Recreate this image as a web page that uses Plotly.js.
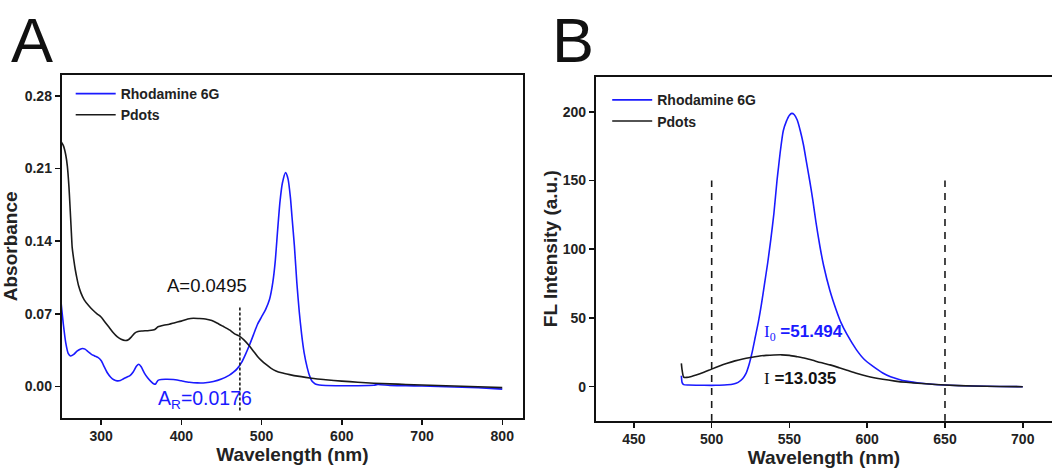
<!DOCTYPE html>
<html>
<head>
<meta charset="utf-8">
<script src="https://cdn.plot.ly/plotly-3.0.1.min.js"></script>
<style>html,body{margin:0;padding:0;background:#fff;}#chart{width:1052px;height:468px;}</style>
</head>
<body>
<div id="chart"></div>
<script>
// ---------- Panel A: absorbance ----------
var rhodAbsWl = [250,253,256,259,262,266,270,274,277,280,284,288,292,296,300,304,308,312,316,320,324,328,332,336,340,344,347,350,354,358,362,366,368,371,375,380,390,400,410,420,430,440,450,460,465,470,475,480,485,490,495,500,505,510,514,517,520,523,526,530,533,536,538,541,544,547,550,553,557,560,563,567,572,580,600,620,640,645,660,680,700,720,740,760,780,800];
var rhodAbs = [0.082,0.060,0.042,0.032,0.0295,0.031,0.034,0.036,0.0366,0.036,0.0335,0.031,0.0295,0.028,0.025,0.019,0.013,0.009,0.0065,0.0055,0.0058,0.0075,0.009,0.0105,0.014,0.0195,0.0215,0.019,0.013,0.0085,0.005,0.0025,0.0025,0.006,0.0068,0.007,0.0068,0.0055,0.0042,0.0035,0.0036,0.0048,0.0072,0.011,0.0138,0.0175,0.023,0.031,0.040,0.050,0.060,0.067,0.074,0.084,0.100,0.120,0.150,0.178,0.196,0.206,0.200,0.182,0.163,0.135,0.100,0.072,0.050,0.033,0.018,0.010,0.005,0.0025,0.0015,0.0010,0.0008,0.0008,0.0012,0.0020,0.0010,0.0008,0.0005,0.0,-0.0005,-0.0008,-0.0015,-0.0025];

var pdotsAbsWl = [250,253,256,258,260,261,262,263,264,266,268,270,272,275,279,285,290,295,300,305,310,315,320,325,330,334,338,342,346,352,360,367,371,378,385,392,400,408,415,422,430,438,445,452,460,466,472,478,485,490,495,500,506,512,518,525,535,545,555,565,580,600,620,640,660,680,700,720,740,760,780,800];
var pdotsAbs = [0.236,0.232,0.223,0.212,0.192,0.178,0.163,0.148,0.134,0.122,0.112,0.104,0.097,0.090,0.0835,0.0775,0.0735,0.070,0.067,0.062,0.057,0.052,0.048,0.0455,0.0443,0.045,0.048,0.0515,0.053,0.0535,0.054,0.055,0.0575,0.059,0.060,0.0615,0.063,0.065,0.0658,0.0655,0.065,0.0635,0.061,0.058,0.0545,0.051,0.0488,0.045,0.039,0.034,0.029,0.025,0.021,0.0175,0.015,0.0132,0.0115,0.010,0.0088,0.0078,0.0065,0.0052,0.0042,0.0032,0.0026,0.002,0.0015,0.001,0.0005,0.0,-0.0005,-0.001];

var markerA_x = [473, 473];
var markerA_y = [-0.023, 0.077];

var absTicks = [0, 0.07, 0.14, 0.21, 0.28];
var absWlTicks = [300, 400, 500, 600, 700, 800];

// ---------- Panel B: fluorescence ----------
var rhodFlWl = [480.5,481,482,485,490,500,505,510,514,517,520,522,524,526,528,530,532,534,536,538,540,542,543,544,546,548,550,551.5,553,555,557,559,561,563,565,567,569.6,572,576,580,583,587,593,598,604,610,615,620,625,635,650,668,685,700];
var rhodFl = [8,3,1.5,1.2,1.1,1.0,1.1,1.4,2.0,3.2,6,9.5,16,25,36,47,60,75,90,107,126,150,160,170,186,193,197.5,198.8,198,194,186,176,163,150,136,120,102,88,70,56,47,38,27,20,14.6,10,7.3,5.5,4.1,2.5,1.2,0.5,0.2,0];

var pdotsFlWl = [480.5,481,482,484,487,490,495,500,505,510,515,520,525,530,535,540,545,550,555,560,565,570,576,582,587,593,600,610,618,625,635,650,668,685,700];
var pdotsFl = [17,12,7,6.8,7.5,8.5,10.5,12.8,15,17,18.8,20.2,21.3,22.2,22.8,23.1,23.2,22.8,21.8,20.7,19.2,17.6,15.9,13.8,12,9.8,7.6,5.4,4.1,3.2,2.3,1.2,0.5,0.2,0];

var markerB1_x = [500, 500];
var markerB2_x = [650, 650];
var markerB_y = [-25, 150];

var flTicks = [0, 50, 100, 150, 200];
var flWlTicks = [450, 500, 550, 600, 650, 700];

var BLUE = '#1a1aff';
var BLACK = '#1a1a1a';
var FONT = 'Liberation Sans, Arial, sans-serif';

var traces = [
  {x: rhodAbsWl, y: rhodAbs, type: 'scatter', mode: 'lines', name: 'Rhodamine 6G',
   line: {color: BLUE, width: 1.6, shape: 'spline', smoothing: 0.6}, xaxis: 'x', yaxis: 'y', legend: 'legend'},
  {x: pdotsAbsWl, y: pdotsAbs, type: 'scatter', mode: 'lines', name: 'Pdots',
   line: {color: BLACK, width: 1.6, shape: 'spline', smoothing: 0.6}, xaxis: 'x', yaxis: 'y', legend: 'legend'},
  {x: markerA_x, y: markerA_y, type: 'scatter', mode: 'lines', showlegend: false,
   line: {color: BLACK, width: 1.6, dash: '3px,2px'}, xaxis: 'x', yaxis: 'y'},
  {x: rhodFlWl, y: rhodFl, type: 'scatter', mode: 'lines', name: 'Rhodamine 6G',
   line: {color: BLUE, width: 1.6, shape: 'spline', smoothing: 0.6}, xaxis: 'x2', yaxis: 'y2', legend: 'legend2'},
  {x: pdotsFlWl, y: pdotsFl, type: 'scatter', mode: 'lines', name: 'Pdots',
   line: {color: BLACK, width: 1.6, shape: 'spline', smoothing: 0.6}, xaxis: 'x2', yaxis: 'y2', legend: 'legend2'},
  {x: markerB1_x, y: markerB_y, type: 'scatter', mode: 'lines', showlegend: false,
   line: {color: BLACK, width: 1.6, dash: '7px,6px'}, xaxis: 'x2', yaxis: 'y2'},
  {x: markerB2_x, y: markerB_y, type: 'scatter', mode: 'lines', showlegend: false,
   line: {color: BLACK, width: 1.6, dash: '7px,6px'}, xaxis: 'x2', yaxis: 'y2'}
];

var tickFont = {family: FONT, size: 14, color: '#222', weight: 'bold'};
var titleFont = {family: FONT, size: 19, color: '#222', weight: 'bold'};

function axisBase() {
  return {showgrid: false, zeroline: false, showline: true, linecolor: '#111', linewidth: 2,
          ticks: 'outside', ticklen: 5, tickwidth: 1.5, tickcolor: '#111', tickfont: tickFont,
          automargin: false, fixedrange: true};
}

var xaxis = Object.assign(axisBase(), {domain: [0.0587, 0.4971], range: [251.0, 825.8], tickvals: absWlTicks,
  mirror: true, anchor: 'y', title: {text: 'Wavelength (nm)', font: titleFont, standoff: 1}});
var yaxis = Object.assign(axisBase(), {domain: [0.1075, 0.8397], range: [-0.030, 0.300], tickvals: absTicks,
  tickformat: '.2f', mirror: true, anchor: 'x', title: {text: 'Absorbance', font: titleFont, standoff: 2}});
var xaxis2 = Object.assign(axisBase(), {domain: [0.5665, 1], range: [425.6, 718.8], tickvals: flWlTicks,
  mirror: true, anchor: 'y2', title: {text: 'Wavelength (nm)', font: titleFont, standoff: 4}});
var yaxis2 = Object.assign(axisBase(), {domain: [0.1011, 0.8361], range: [-24.7, 225.5], tickvals: flTicks,
  mirror: false, anchor: 'x2', title: {text: 'FL Intensity (a.u.)', font: titleFont, standoff: 0}});

var legendFont = {family: FONT, size: 14, color: '#222', weight: 'bold'};

var layout = {
  width: 1052, height: 468,
  margin: {l: 0, r: 0, t: 0, b: 0},
  paper_bgcolor: '#fff', plot_bgcolor: '#fff',
  showlegend: true,
  xaxis: xaxis, yaxis: yaxis, xaxis2: xaxis2, yaxis2: yaxis2,
  legend: {x: 0.0672, y: 0.8333, xanchor: 'left', yanchor: 'top', bgcolor: 'rgba(0,0,0,0)',
           borderwidth: 0, font: legendFont, tracegroupgap: 0, itemwidth: 40},
  legend2: {x: 0.5772, y: 0.8200, xanchor: 'left', yanchor: 'top', bgcolor: 'rgba(0,0,0,0)',
           borderwidth: 0, font: legendFont, tracegroupgap: 0, itemwidth: 40},
  annotations: [
    {text: 'A', xref: 'paper', yref: 'paper', x: 0.0085, y: 0.9145, xanchor: 'left', yanchor: 'middle',
     showarrow: false, font: {family: FONT, size: 63, color: '#111'}},
    {text: 'B', xref: 'paper', yref: 'paper', x: 0.5230, y: 0.9145, xanchor: 'left', yanchor: 'middle',
     showarrow: false, font: {family: FONT, size: 63, color: '#111'}},
    {text: 'A=0.0495', xref: 'paper', yref: 'paper', x: 0.1963, y: 0.3910, xanchor: 'center', yanchor: 'middle',
     showarrow: false, font: {family: FONT, size: 18.5, color: '#111'}},
    {text: 'A<sub>R</sub>=0.0176', xref: 'paper', yref: 'paper', x: 0.1485, y: 0.1474, xanchor: 'left', yanchor: 'middle',
     showarrow: false, font: {family: FONT, size: 19.5, color: BLUE}},
    {text: '<span style="font-family:Liberation Serif;font-weight:normal">I<sub>0</sub></span> =51.494', xref: 'paper', yref: 'paper',
     x: 0.7245, y: 0.2885, xanchor: 'left', yanchor: 'middle',
     showarrow: false, font: {family: FONT, size: 17, color: BLUE, weight: 'bold'}},
    {text: '<span style="font-family:Liberation Serif;font-weight:normal">I</span> =13.035', xref: 'paper', yref: 'paper',
     x: 0.7245, y: 0.1902, xanchor: 'left', yanchor: 'middle',
     showarrow: false, font: {family: FONT, size: 17, color: '#111', weight: 'bold'}}
  ]
};

Plotly.newPlot('chart', traces, layout, {displayModeBar: false, staticPlot: true});
</script>
</body>
</html>
